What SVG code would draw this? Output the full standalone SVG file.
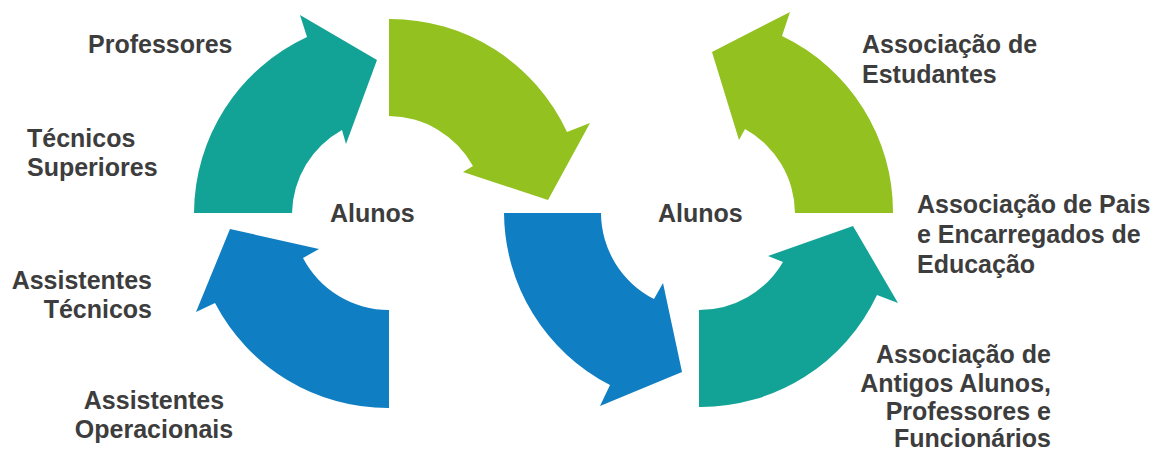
<svg xmlns="http://www.w3.org/2000/svg" width="1171" height="450" viewBox="0 0 1171 450">
<style>
.t{font-family:"Liberation Sans",Arial,sans-serif;font-weight:bold;font-size:25px;fill:#3d3d3d}
.teal{fill:#13A396}
.green{fill:#92C120}
.blue{fill:#0F7EC3}
</style>
<rect width="1171" height="450" fill="#ffffff"/>
<g id="connectors">
<path id="left-teal" class="teal" d="M 194 213 A 195 195 0 0 1 307 37 L 300 15 L 377 60 L 346 144 L 342 130 A 97 97 0 0 0 292 213 Z"/>
<path id="left-green" class="green" d="M 389 19 A 195 195 0 0 1 567 132 L 590 123 L 548 200 L 463 172 L 473 166 A 97 97 0 0 0 389 116 Z"/>
<path id="left-blue" class="blue" d="M 389 408 A 195 195 0 0 1 215 303 L 196 312 L 230 229 L 319 249 L 303 258 A 97 97 0 0 0 389 310 Z"/>
<path id="right-blue" class="blue" d="M 504 213 A 195 195 0 0 0 610 385 L 600 406 L 682 372 L 663 283 L 654 299 A 97 97 0 0 1 601 213 Z"/>
<path id="right-teal" class="teal" d="M 699 407 A 195 195 0 0 0 877 295 L 898 303 L 853 226 L 768 256 L 783 262 A 97 97 0 0 1 699 310 Z"/>
<path id="right-green" class="green" d="M 893 213 A 195 195 0 0 0 782 36 L 790 12 L 712 52 L 739 140 L 745 129 A 97 97 0 0 1 795 213 Z"/>
</g>
<g id="alunos-left"><text class="t" x="330" y="222">Alunos</text></g>
<g id="alunos-right"><text class="t" x="658" y="222">Alunos</text></g>
<g id="professores"><text class="t" x="88" y="53">Professores</text></g>
<g id="tecnicos-superiores"><text class="t" x="27" y="147">Técnicos</text><text class="t" x="27" y="176">Superiores</text></g>
<g id="assistentes-tecnicos"><text class="t" x="152" y="289" text-anchor="end">Assistentes</text><text class="t" x="152" y="318" text-anchor="end">Técnicos</text></g>
<g id="assistentes-operacionais"><text class="t" x="154" y="409" text-anchor="middle">Assistentes</text><text class="t" x="154" y="438" text-anchor="middle">Operacionais</text></g>
<g id="assoc-estudantes"><text class="t" x="862" y="53">Associação de</text><text class="t" x="862" y="83">Estudantes</text></g>
<g id="assoc-pais"><text class="t" x="917" y="213">Associação de Pais</text><text class="t" x="917" y="243">e Encarregados de</text><text class="t" x="917" y="273">Educação</text></g>
<g id="assoc-antigos"><text class="t" x="1051" y="363" text-anchor="end">Associação de</text><text class="t" x="1051" y="392" text-anchor="end">Antigos Alunos,</text><text class="t" x="1051" y="420" text-anchor="end">Professores e</text><text class="t" x="1051" y="447" text-anchor="end">Funcionários</text></g>
</svg>
